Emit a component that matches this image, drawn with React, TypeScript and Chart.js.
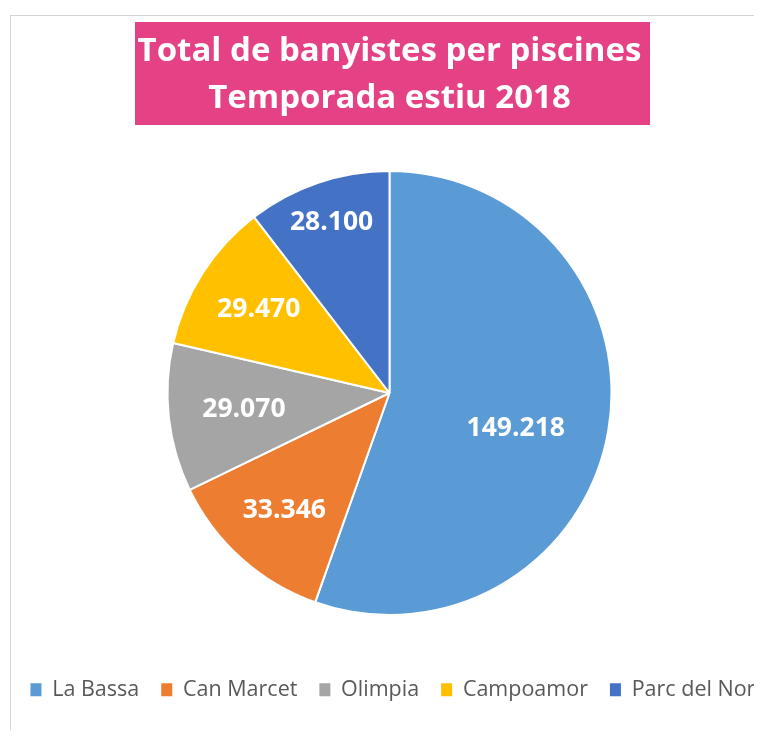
import React, { useEffect, useRef } from 'react';
import { Chart, registerables } from 'chart.js';

Chart.register(...registerables);

const categories = ['La Bassa', 'Can Marcet', 'Olimpia', 'Campoamor', 'Parc del Nord'];
const values = [149218, 33346, 29070, 29470, 28100];
const valueLabels = ['149.218', '33.346', '29.070', '29.470', '28.100'];
const colors = ['#5B9BD5', '#ED7D31', '#A5A5A5', '#FFC000', '#4472C4'];
const titleLines = ['Total de banyistes per piscines', 'Temporada estiu 2018'];

// styling (not data)
const OFFSET_X = 40; // canvas starts 40px left of the page
const LEGEND_SHIFT = 10;
const labelRadius = [0.59, 0.71, 0.66, 0.7, 0.81];
const labelAngleShift = [0.1, 0, 0, 0, 0];

const titleBackground = {
  id: 'titleBackground',
  afterLayout(chart: any) {
    if (chart.legend) {
      chart.legend.left += LEGEND_SHIFT;
      chart.legend.right += LEGEND_SHIFT;
    }
  },
  beforeDraw(chart: any) {
    const ctx = chart.ctx;
    ctx.save();
    ctx.fillStyle = '#E44284';
    ctx.fillRect(135 + OFFSET_X, 22, 515, 103);
    ctx.restore();
  },
};

const sliceLabels = {
  id: 'sliceLabels',
  afterDatasetsDraw(chart: any) {
    const ctx = chart.ctx;
    const meta = chart.getDatasetMeta(0);
    ctx.save();
    ctx.fillStyle = '#FFFFFF';
    ctx.font = 'bold 26.5px "Open Sans"';
    ctx.textAlign = 'center';
    ctx.textBaseline = 'middle';
    meta.data.forEach((arc: any, i: number) => {
      const { x, y, startAngle, endAngle, outerRadius } = arc.getProps(
        ['x', 'y', 'startAngle', 'endAngle', 'outerRadius'],
        true
      );
      const mid = (startAngle + endAngle) / 2 + labelAngleShift[i];
      const r = outerRadius * labelRadius[i];
      ctx.fillText(valueLabels[i], x + Math.cos(mid) * r, y + Math.sin(mid) * r);
    });
    ctx.restore();
  },
};

export default function App() {
  const canvasRef = useRef<HTMLCanvasElement | null>(null);

  useEffect(() => {
    document.documentElement.style.overflow = 'hidden';
    document.body.style.overflow = 'hidden';
    const canvas = canvasRef.current;
    if (!canvas) return;
    const chart = new Chart(canvas, {
      type: 'pie',
      data: {
        labels: categories,
        datasets: [
          {
            data: values,
            backgroundColor: colors,
            borderColor: '#FFFFFF',
            borderWidth: 2,
          },
        ],
      },
      options: {
        responsive: false,
        animation: false,
        devicePixelRatio: 1,
        radius: 222,
        layout: { padding: { top: 22, bottom: 27.5, left: 0, right: 21 } },
        plugins: {
          title: {
            display: true,
            text: titleLines,
            color: '#FFFFFF',
            font: { family: '"Open Sans"', size: 33, weight: 'bold', lineHeight: 47 / 33 },
            padding: { top: 6, bottom: 7 },
          },
          legend: {
            display: true,
            position: 'bottom',
            labels: {
              color: '#595959',
              font: { family: '"Open Sans"', size: 21.5 },
              boxWidth: 11,
              boxHeight: 13,
              padding: 22,
              generateLabels: (c: any) =>
                (Chart as any).overrides.pie.plugins.legend.labels
                  .generateLabels(c)
                  .map((l: any) => ({ ...l, lineWidth: 0, strokeStyle: 'transparent' })),
            },
          },
          tooltip: { enabled: false },
        },
      } as any,
      plugins: [titleBackground, sliceLabels],
    });
    return () => chart.destroy();
  }, []);

  return (
    <div style={{ position: 'relative', width: 'calc(100% + 8px)', height: 722, overflow: 'hidden' }}>
      <div
        style={{
          position: 'absolute',
          left: 2,
          top: 7,
          width: 820,
          height: 800,
          border: '1px solid #D4D4D4',
          boxSizing: 'border-box',
        }}
      />
      <canvas
        ref={canvasRef}
        width={880}
        height={738}
        style={{ position: 'absolute', left: -8 - OFFSET_X, top: -8, width: 880, height: 738 }}
      />
    </div>
  );
}
